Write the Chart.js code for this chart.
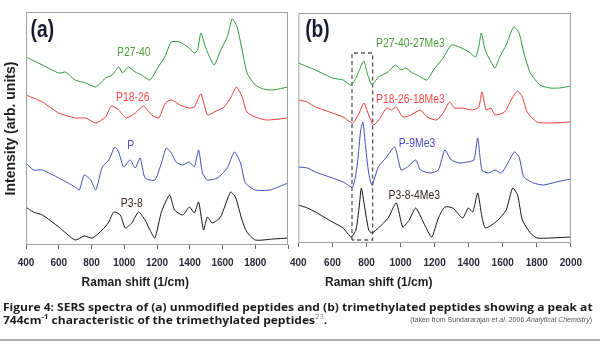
<!DOCTYPE html>
<html>
<head>
<meta charset="utf-8">
<script src="https://cdn.jsdelivr.net/npm/chart.js@4.4.1/dist/chart.umd.min.js"></script>
<style>
body { margin: 0; background: #fff; width: 600px; height: 344px; overflow: hidden; position: relative; }
#wrapA { position: absolute; left: 0; top: 0; width: 296px; height: 300px; }
#wrapB { position: absolute; left: 280px; top: 0; width: 312px; height: 300px; }
.cap { position: absolute; left: 3px; font: bold 11px 'Open Sans', sans-serif; color: #1c1c1c; white-space: nowrap; transform-origin: 0 0; }
.cap sup { font-size: 7px; }
.cap sup.ref { color: #888; font-weight: normal; }
#src { position: absolute; right: 8px; top: 316px; font: 7px 'Liberation Sans', sans-serif; color: #555; white-space: nowrap; }
#rule { position: absolute; left: 0; top: 339px; width: 600px; height: 2px; background: #b0b0b0; }
</style>
</head>
<body>
<div id="wrapA"><canvas id="chartA" width="296" height="300"></canvas></div>
<div id="wrapB"><canvas id="chartB" width="312" height="300"></canvas></div>
<div class="cap" id="cap1" style="top:299px">Figure 4: SERS spectra of (a) unmodified peptides and (b) trimethylated peptides showing a peak at</div>
<div class="cap" id="cap2" style="top:312px">744cm<sup>-1</sup> characteristic of the trimethylated peptides<sup class="ref">23</sup>.</div>
<div id="src">(taken from Sundararajan <i>et al.</i> 2006 <i>Analytical Chemistry</i>)</div>
<div id="rule"></div>
<script>
// Raman shift (1/cm) vs intensity (arb. units, offset traces)
var wnMin = 400, wnMax = 2000, wnStep = 200;

// panel (a) unmodified peptides
var a_P27_40 = [[400,188],[500,180],[600,172],[640,173],[665,170],[700,165],[765,162],[826,158],[886,167],[926,170],[966,178],[990,172],[1026,178],[1067,173],[1107,170],[1157,165],[1207,178],[1247,188],[1287,203],[1337,203],[1388,198],[1428,192],[1448,195],[1468,212],[1498,197],[1549,180],[1589,195],[1629,208],[1659,226],[1689,218],[1720,195],[1750,172],[1800,160],[1850,156],[1910,155],[2000,158]];
var a_P18_26 = [[400,150],[500,143],[600,132],[700,127],[765,127],[826,122],[886,128],[921,139],[966,135],[1012,127],[1067,132],[1117,139],[1167,130],[1211,127],[1251,142],[1290,145],[1340,140],[1398,137],[1428,138],[1468,151],[1508,130],[1549,133],[1609,138],[1649,147],[1685,158],[1720,148],[1749,133],[1800,128],[1870,125],[2000,127]];
var a_P = [[400,82],[445,75],[500,75],[600,67],[700,58],[726,55],[755,70],[795,65],[826,55],[866,78],[906,85],[942,98],[966,93],[996,78],[1036,85],[1067,77],[1097,87],[1127,67],[1187,65],[1227,82],[1257,97],[1287,92],[1317,83],[1357,80],[1398,83],[1428,78],[1454,95],[1478,72],[1508,65],[1569,67],[1629,77],[1673,93],[1710,82],[1740,62],[1800,55],[1890,55],[2000,62]];
var a_P3_8 = [[400,38],[445,33],[500,30],[600,18],[700,5],[755,9],[805,7],[866,15],[906,23],[936,33],[976,30],[1006,17],[1046,22],[1087,33],[1127,25],[1157,15],[1187,7],[1227,33],[1277,50],[1307,35],[1357,30],[1398,38],[1428,32],[1454,43],[1484,15],[1508,28],[1538,22],[1588,28],[1649,53],[1679,48],[1719,25],[1749,13],[1800,5],[1910,6],[2000,7]];

// panel (b) trimethylated peptides
var b_P27_40_27Me3 = [[400,180],[500,173],[600,165],[663,163],[709,158],[738,165],[766,176],[785,182],[804,170],[832,158],[870,166],[927,171],[969,178],[1003,173],[1032,175],[1070,170],[1098,168],[1155,163],[1193,173],[1250,185],[1298,198],[1345,196],[1402,191],[1440,186],[1459,196],[1474,210],[1497,193],[1525,183],[1554,175],[1582,186],[1620,198],[1664,216],[1696,210],[1724,190],[1762,170],[1819,158],[1876,155],[1933,155],[2000,157]];
var b_P18_26_18Me3 = [[400,143],[453,141],[500,136],[600,130],[663,126],[719,120],[757,130],[785,140],[813,128],[842,118],[880,125],[918,135],[946,133],[975,136],[1013,126],[1060,128],[1117,133],[1155,126],[1212,123],[1250,130],[1288,141],[1317,135],[1364,135],[1421,133],[1459,136],[1478,151],[1503,133],[1531,135],[1554,128],[1611,131],[1649,143],[1687,152],[1715,146],[1743,131],[1800,121],[1876,120],[2000,121]];
var b_P_9Me3 = [[400,76],[453,75],[500,71],[600,65],[663,61],[719,56],[747,80],[766,113],[779,121],[795,96],[813,70],[832,58],[870,76],[918,86],[966,96],[1003,73],[1041,76],[1089,83],[1117,73],[1174,70],[1222,73],[1260,93],[1298,83],[1345,80],[1393,81],[1431,83],[1453,105],[1478,73],[1516,70],[1554,73],[1592,70],[1630,80],[1668,91],[1696,86],[1724,66],[1781,60],[1838,58],[1914,61],[2000,64]];
var b_P3_8_4Me3 = [[400,38],[453,35],[500,31],[600,21],[663,15],[709,6],[738,13],[757,36],[770,55],[789,36],[813,13],[832,10],[870,15],[927,25],[975,40],[1013,16],[1051,23],[1089,35],[1136,20],[1183,6],[1222,25],[1260,36],[1307,35],[1364,25],[1398,35],[1424,31],[1453,50],[1478,26],[1497,15],[1535,18],[1573,23],[1620,33],[1658,55],[1687,48],[1715,23],[1762,10],[1800,5],[1876,5],[2000,6]];

// dashed box round the 744 band in (b)
var boxWn = [715, 715, 836, 836, 715];
var boxInt = [3, 190, 190, 3, 3];

var green = '#2a9a3c', red = '#ee3b30', blue = '#3d4fb5', black = '#141414';
var sans = "'Liberation Sans', sans-serif";

function pts(arr) {
    return arr.map(function (p) { return { x: p[0], y: p[1] }; });
}

function trace(arr, color) {
    return { data: pts(arr), borderColor: color, borderWidth: 1, pointRadius: 0, tension: 0.2, fill: false };
}

var frame = {
    id: 'frame',
    afterDraw: function (chart, args, o) {
        var ctx = chart.ctx, a = chart.chartArea, sx = chart.scales.x, sy = chart.scales.y;
        ctx.save();
        ctx.strokeStyle = '#a0a0a0';
        ctx.lineWidth = 1;
        ctx.strokeRect(a.left + 0.5, a.top + 0.5, a.width - 1, a.height - 1);
        o.labels.forEach(function (l) {
            // the original labels are in a narrow face, so squeeze them
            ctx.save();
            ctx.translate(sx.getPixelForValue(l.x), sy.getPixelForValue(l.y));
            ctx.scale(0.8, 1);
            ctx.font = l.font;
            ctx.fillStyle = l.color;
            ctx.textAlign = l.align || 'center';
            ctx.textBaseline = 'middle';
            ctx.fillText(l.text, 0, 0);
            ctx.restore();
        });
        ctx.font = 'bold 12px ' + sans;
        ctx.fillStyle = '#1e1e1e';
        ctx.textAlign = 'center';
        ctx.textBaseline = 'middle';
        ctx.fillText('Raman shift (1/cm)', a.left + a.width * o.titleAt, 283);
        ctx.restore();
    }
};

function makeChart(id, datasets, o) {
    return new Chart(document.getElementById(id), {
        type: 'line',
        data: { datasets: datasets },
        plugins: [frame],
        options: {
            responsive: false,
            animation: false,
            events: [],
            layout: { padding: { top: o.top, right: o.right, left: 0, bottom: 0 } },
            plugins: {
                legend: { display: false },
                tooltip: { enabled: false },
                frame: { labels: o.labels, titleAt: o.titleAt }
            },
            scales: {
                x: {
                    type: 'linear', min: wnMin, max: wnMax,
                    afterFit: function (s) { s.height = o.xh; },
                    afterBuildTicks: function (s) {
                        s.ticks = [];
                        for (var v = wnMin; v <= wnMax; v += wnStep) s.ticks.push({ value: v });
                    },
                    ticks: {
                        autoSkip: false, maxRotation: 0, padding: o.tickPad,
                        color: '#2b2b3b', font: { family: sans, size: 10, weight: 'bold' },
                        callback: function (v) { return (o.hideLast && v === wnMax) ? '' : v; }
                    },
                    grid: { drawOnChartArea: false, drawTicks: true, tickLength: 4, color: '#666' },
                    border: { display: false }
                },
                y: {
                    min: 0, max: o.ymax,
                    afterFit: function (s) { s.width = o.yw; },
                    ticks: { display: false },
                    grid: { display: false },
                    border: { display: false },
                    title: {
                        display: o.ytitle, text: 'Intensity (arb. units)', color: '#202020',
                        font: { family: sans, size: 14, weight: 'bold' },
                        padding: { top: 3, bottom: 0 }
                    }
                }
            }
        }
    });
}

makeChart('chartA', [
    trace(a_P27_40, green), trace(a_P18_26, red), trace(a_P, blue), trace(a_P3_8, black)
], {
    top: 12, right: 4, xh: 55, yw: 26, ymax: 233, tickPad: 8, hideLast: true, ytitle: true, titleAt: 0.417,
    labels: [
        { text: '(a)', x: 428, y: 215, align: 'left', color: '#1b1b30', font: 'bold 24px ' + sans },
        { text: 'P27-40', x: 1058, y: 193, color: '#4a9f3a', font: '13px ' + sans },
        { text: 'P18-26', x: 1052, y: 148, color: '#ff4a4a', font: '13px ' + sans },
        { text: 'P', x: 1040, y: 100, color: '#4a4cc8', font: '13px ' + sans },
        { text: 'P3-8', x: 1046, y: 42, color: '#3a2a22', font: '13px ' + sans }
    ]
});

var box = { data: boxWn.map(function (w, i) { return { x: w, y: boxInt[i] }; }), borderColor: '#555', borderWidth: 1.3, borderDash: [4, 3], pointRadius: 0, tension: 0, fill: false };

makeChart('chartB', [
    trace(b_P27_40_27Me3, green), trace(b_P18_26_18Me3, red), trace(b_P_9Me3, blue), trace(b_P3_8_4Me3, black), box
], {
    top: 13, right: 14, xh: 57, yw: 17, ymax: 230, tickPad: 10, hideLast: false, ytitle: false, titleAt: 0.295,
    labels: [
        { text: '(b)', x: 440, y: 213, align: 'left', color: '#1b1b30', font: 'bold 24px ' + sans },
        { text: 'P27-40-27Me3', x: 856, y: 200, align: 'left', color: '#4a9f3a', font: '13px ' + sans },
        { text: 'P18-26-18Me3', x: 856, y: 144, align: 'left', color: '#ff4a4a', font: '13px ' + sans },
        { text: 'P-9Me3', x: 990, y: 100, align: 'left', color: '#4a4cc8', font: '13px ' + sans },
        { text: 'P3-8-4Me3', x: 930, y: 48, align: 'left', color: '#3a2a22', font: '13px ' + sans }
    ]
});

// squeeze the caption to the width of the original
var c1 = document.getElementById('cap1'), c2 = document.getElementById('cap2');
var k = 590 / c1.offsetWidth;
c1.style.transform = 'scaleX(' + k + ')';
c2.style.transform = 'scaleX(' + k + ')';
</script>
</body>
</html>
